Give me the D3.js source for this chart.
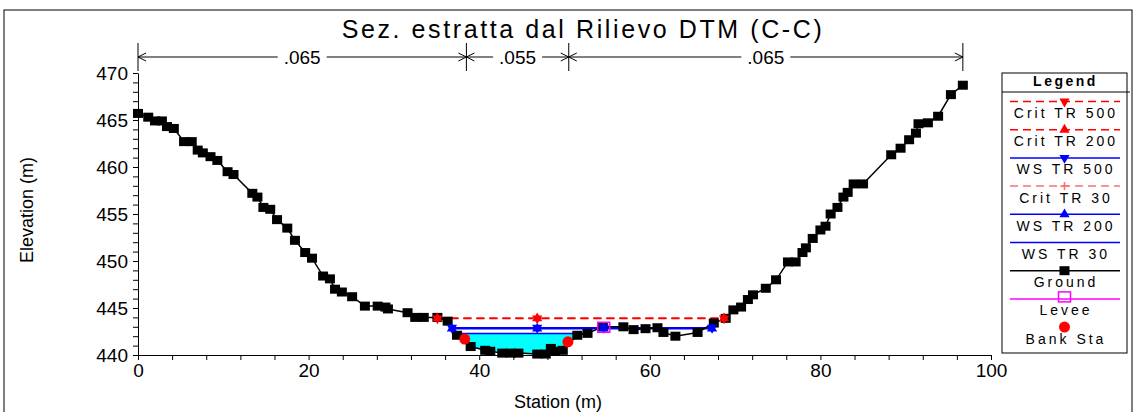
<!DOCTYPE html>
<html>
<head>
<meta charset="utf-8">
<script src="https://cdn.jsdelivr.net/npm/d3@7"></script>
<style>
body{margin:0;background:#fff}
svg{display:block;font-family:"Liberation Sans",Arial,sans-serif}
</style>
</head>
<body>
<svg id="chart"></svg>
<script>
// ---- data ----
var chartTitle = "Sez. estratta dal Rilievo DTM (C-C)";
var groundSta = [0.0,1.2,2.0,2.8,3.4,4.2,5.4,6.3,7.0,7.6,8.5,9.3,10.5,11.2,13.4,14.0,14.7,15.5,16.3,17.5,
    18.4,19.6,20.4,21.7,22.5,23.1,23.9,25.1,26.6,28.1,29.0,29.3,31.6,32.5,33.5,35.1,36.3,37.4,39.0,40.7,
    41.3,42.7,43.7,44.6,46.8,47.8,48.4,48.9,49.8,51.5,52.7,54.5,56.9,58.1,59.5,60.9,61.6,63.0,65.6,67.5,
    68.9,69.8,70.7,71.5,72.1,73.6,74.8,76.2,77.1,77.9,78.3,79.1,80.0,80.6,81.2,82.0,82.7,83.2,83.9,85.0,
    88.3,89.4,90.4,91.2,91.5,92.6,93.8,95.3,96.7];
var groundElev = [465.7,465.3,464.9,464.9,464.3,464.1,462.7,462.7,461.8,461.5,461.1,460.7,459.5,459.2,457.2,456.8,455.7,455.5,454.4,453.5,
    452.2,450.9,450.3,448.4,448.1,447.0,446.7,446.2,445.2,445.2,445.1,444.9,444.5,444.0,444.0,444.0,443.6,442.1,440.9,440.5,
    440.4,440.2,440.2,440.2,440.1,440.1,440.7,440.4,440.5,442.1,442.3,443.0,443.0,442.7,442.8,442.9,442.4,442.0,442.4,443.4,
    443.9,444.8,445.1,445.9,446.4,447.1,448.0,449.9,449.9,450.9,451.4,452.4,453.3,453.7,455.0,455.7,456.8,457.3,458.2,458.2,
    461.3,462.0,462.9,463.6,464.6,464.7,465.4,467.7,468.7];

var profileNames = ["Crit TR 500","Crit TR 200","WS TR 500","Crit TR 30","WS TR 200","WS TR 30"];
var profileElev  = [443.9, 443.9, 442.9, 443.85, 442.8, 442.3];
var profileFrom  = [35.1, 35.1, 36.8, 35.1, 36.8, 37.3];
var profileTo    = [68.7, 68.7, 67.3, 68.7, 67.3, 52.7];
var profileMarks = [[35.1,46.8,68.7],[35.1,46.8,68.7],[36.8,46.8,54.6,67.3],[46.8],[36.8,46.8,54.6,67.3],[]];

var bankSta  = [38.3, 50.4];
var bankElev = [441.7, 441.4];
var leveeSta  = [54.6];
var leveeElev = [442.95];

var nBreaks = [0, 38.5, 50.5, 96.7];
var nValues = [".065", ".055", ".065"];

var xTickLabels = [0, 20, 40, 60, 80, 100];
var yTickLabels = [440, 445, 450, 455, 460, 465, 470];

var legendNames = ["Crit TR 500","Crit TR 200","WS TR 500","Crit TR 30","WS TR 200","WS TR 30","Ground","Levee","Bank Sta"];

// ---- styles ----
var lineStyle = {
    "Crit TR 500": {color:"#ff0000", dash:"8,5", mark:"down"},
    "Crit TR 200": {color:"#ff0000", dash:"8,5", mark:"up"},
    "WS TR 500":   {color:"#0000ff", dash:null,  mark:"down"},
    "Crit TR 30":  {color:"#ff7070", dash:"8,5", mark:"plus"},
    "WS TR 200":   {color:"#0000ff", dash:null,  mark:"up"},
    "WS TR 30":    {color:"#0000ff", dash:null,  mark:null},
    "Ground":      {color:"#000000", dash:null,  mark:"square"},
    "Levee":       {color:"#ff00ff", dash:null,  mark:"levee"},
    "Bank Sta":    {color:"#ff0000", dash:null,  mark:"circle"}
};

var screen = {width:1135, height:412};
var plot = {left:138, right:991, top:73, bottom:355};

var svg = d3.select("#chart")
    .attr("width", screen.width)
    .attr("height", screen.height);

var xScale = d3.scaleLinear().domain([0,100]).range([plot.left, plot.right]);
var yScale = d3.scaleLinear().domain([440,470]).range([plot.bottom, plot.top]);

var ground = groundSta.map(function(s,i){ return {sta:s, elev:groundElev[i]}; });

// draws a marker of the given kind at (x,y)
var drawMarker = function(g, kind, x, y, color)
    {
        if (kind == "up" || kind == "down") {
            g.append("path")
                .attr("d", d3.symbol().type(d3.symbolTriangle).size(45)())
                .attr("transform", "translate(" + x + "," + y + ")" + (kind == "down" ? " rotate(180)" : ""))
                .attr("fill", color);
        } else if (kind == "plus") {
            g.append("path")
                .attr("d", "M" + (x-4) + "," + y + "H" + (x+4) + "M" + x + "," + (y-4) + "V" + (y+4))
                .attr("stroke", color).attr("stroke-width", 1.6);
        } else if (kind == "square") {
            g.append("rect")
                .attr("x", x-5).attr("y", y-4.5).attr("width", 10).attr("height", 9)
                .attr("fill", color);
        } else if (kind == "levee") {
            g.append("rect")
                .attr("x", x-6).attr("y", y-5).attr("width", 12).attr("height", 10)
                .attr("fill", "none").attr("stroke", color).attr("stroke-width", 1.5);
        } else if (kind == "circle") {
            g.append("circle")
                .attr("cx", x).attr("cy", y).attr("r", 5.5)
                .attr("fill", color);
        }
    }

// outer frame
svg.append("rect")
    .attr("x", 4).attr("y", 10).attr("width", 1128).attr("height", 430)
    .attr("fill", "none").attr("stroke", "#000").attr("stroke-width", 1);

// title
svg.append("text")
    .text(chartTitle)
    .attr("x", 583).attr("y", 38)
    .attr("text-anchor", "middle")
    .style("font-size", "25px")
    .style("letter-spacing", "2.6px");

// ---- water fill (lowest profile) ----
var lowIdx = profileNames.indexOf("WS TR 30");
svg.append("clipPath").attr("id", "fillClip")
    .append("rect")
    .attr("x", xScale(profileFrom[lowIdx]))
    .attr("y", yScale(profileElev[lowIdx]))
    .attr("width", xScale(profileTo[lowIdx]) - xScale(profileFrom[lowIdx]))
    .attr("height", plot.bottom - yScale(profileElev[lowIdx]) + 5);

var fillArea = d3.area()
    .x(function(d){ return xScale(d.sta); })
    .y0(function(d){ return yScale(d.elev); })
    .y1(function(d){ return yScale(Math.max(d.elev, profileElev[lowIdx])); });

svg.append("path")
    .datum(ground)
    .attr("d", fillArea)
    .attr("clip-path", "url(#fillClip)")
    .attr("fill", "#00ffff");

// ---- water surface lines ----
var wsGroup = svg.append("g");
var drawOrder = [5,4,3,2,1,0];
drawOrder.forEach(function(i){
    var st = lineStyle[profileNames[i]];
    wsGroup.append("line")
        .attr("x1", xScale(profileFrom[i])).attr("x2", xScale(profileTo[i]))
        .attr("y1", yScale(profileElev[i])).attr("y2", yScale(profileElev[i]))
        .attr("stroke", st.color)
        .attr("stroke-width", 1.5)
        .attr("stroke-dasharray", st.dash);
});

// ---- ground ----
var groundLine = d3.line()
    .x(function(d){ return xScale(d.sta); })
    .y(function(d){ return yScale(d.elev); });

svg.append("path")
    .datum(ground)
    .attr("d", groundLine)
    .attr("fill", "none")
    .attr("stroke", "#000")
    .attr("stroke-width", 1.5);

var markGroup = svg.append("g");
ground.forEach(function(d){
    drawMarker(markGroup, "square", xScale(d.sta), yScale(d.elev), "#000");
});

// profile markers
drawOrder.forEach(function(i){
    var st = lineStyle[profileNames[i]];
    profileMarks[i].forEach(function(s){
        drawMarker(markGroup, st.mark, xScale(s), yScale(profileElev[i]), st.color);
    });
});

leveeSta.forEach(function(s,i){
    drawMarker(markGroup, "levee", xScale(s), yScale(leveeElev[i]), "#ff00ff");
});
bankSta.forEach(function(s,i){
    drawMarker(markGroup, "circle", xScale(s), yScale(bankElev[i]), "#ff0000");
});

// ---- axes ----
var xAxis = d3.axisBottom(xScale)
    .tickValues(d3.range(0, 101, 4))
    .tickSize(5).tickSizeOuter(0).tickPadding(4)
    .tickFormat(function(d){ return xTickLabels.indexOf(d) >= 0 ? d : ""; });
var gx = svg.append("g")
    .attr("transform", "translate(0," + plot.bottom + ")")
    .call(xAxis);

var yAxis = d3.axisLeft(yScale)
    .tickValues(d3.range(440, 471, 1))
    .tickSize(5).tickSizeOuter(0).tickPadding(5)
    .tickFormat(function(d){ return yTickLabels.indexOf(d) >= 0 ? d : ""; });
var gy = svg.append("g")
    .attr("transform", "translate(" + plot.left + ",0)")
    .call(yAxis);

[gx, gy].forEach(function(g){
    g.attr("font-family", null).attr("font-size", null);
    g.selectAll("text").style("font-size", "19px").attr("fill", "#000");
    g.selectAll("line").attr("stroke", "#000");
    g.select(".domain").attr("stroke", "#000");
});

svg.append("text")
    .text("Station (m)")
    .attr("x", 558).attr("y", 408)
    .attr("text-anchor", "middle")
    .style("font-size", "18px");

svg.append("text")
    .text("Elevation (m)")
    .attr("transform", "translate(33,210) rotate(-90)")
    .attr("text-anchor", "middle")
    .style("font-size", "18px");

// ---- roughness (n values) ----
var nGroup = svg.append("g").attr("stroke", "#000").attr("stroke-width", 1);
var arrowY = 57;
nBreaks.forEach(function(s){
    nGroup.append("line")
        .attr("x1", xScale(s)).attr("x2", xScale(s))
        .attr("y1", 43).attr("y2", 71);
});
nValues.forEach(function(v,i){
    var x0 = xScale(nBreaks[i]), x1 = xScale(nBreaks[i+1]);
    var t = svg.append("text")
        .text(v)
        .attr("x", (x0 + x1) / 2).attr("y", arrowY + 7)
        .attr("text-anchor", "middle")
        .style("font-size", "19px");
    var w = t.node().getComputedTextLength();
    var a = (x0 + x1) / 2 - w / 2 - 6, b = (x0 + x1) / 2 + w / 2 + 6;
    nGroup.append("path")
        .attr("fill", "none")
        .attr("d", "M" + x0 + "," + arrowY + "H" + a + "M" + b + "," + arrowY + "H" + x1
            + "M" + (x0 + 8) + "," + (arrowY - 4) + "L" + x0 + "," + arrowY + "L" + (x0 + 8) + "," + (arrowY + 4)
            + "M" + (x1 - 8) + "," + (arrowY - 4) + "L" + x1 + "," + arrowY + "L" + (x1 - 8) + "," + (arrowY + 4));
});

// ---- legend ----
var legend = svg.append("g");
var lg = {left:1002, right:1127, top:73, bottom:353};
legend.append("rect")
    .attr("x", lg.left).attr("y", lg.top)
    .attr("width", lg.right - lg.left).attr("height", lg.bottom - lg.top)
    .attr("fill", "#fff").attr("stroke", "#000");
legend.append("line")
    .attr("x1", lg.left).attr("x2", lg.right + 3)
    .attr("y1", 92).attr("y2", 92)
    .attr("stroke", "#000");
legend.append("text")
    .text("Legend")
    .attr("x", (lg.left + lg.right) / 2 + 1).attr("y", 86)
    .attr("text-anchor", "middle")
    .style("font-size", "14px").style("font-weight", "bold").style("letter-spacing", "2.5px");

var midX = (lg.left + lg.right) / 2;
legendNames.forEach(function(name,i){
    var st = lineStyle[name];
    var ly = 101.5 + i * 28.2;
    if (name != "Bank Sta") {
        legend.append("line")
            .attr("x1", 1010).attr("x2", 1120)
            .attr("y1", ly).attr("y2", ly)
            .attr("stroke", st.color).attr("stroke-width", 1.5)
            .attr("stroke-dasharray", st.dash);
    }
    drawMarker(legend, st.mark, midX, name == "Levee" ? ly - 2 : ly, st.color);
    legend.append("text")
        .text(name)
        .attr("x", midX + 1.5).attr("y", ly + 16.5)
        .attr("text-anchor", "middle")
        .style("font-size", "14px").style("letter-spacing", "3px");
});
</script>
</body>
</html>
